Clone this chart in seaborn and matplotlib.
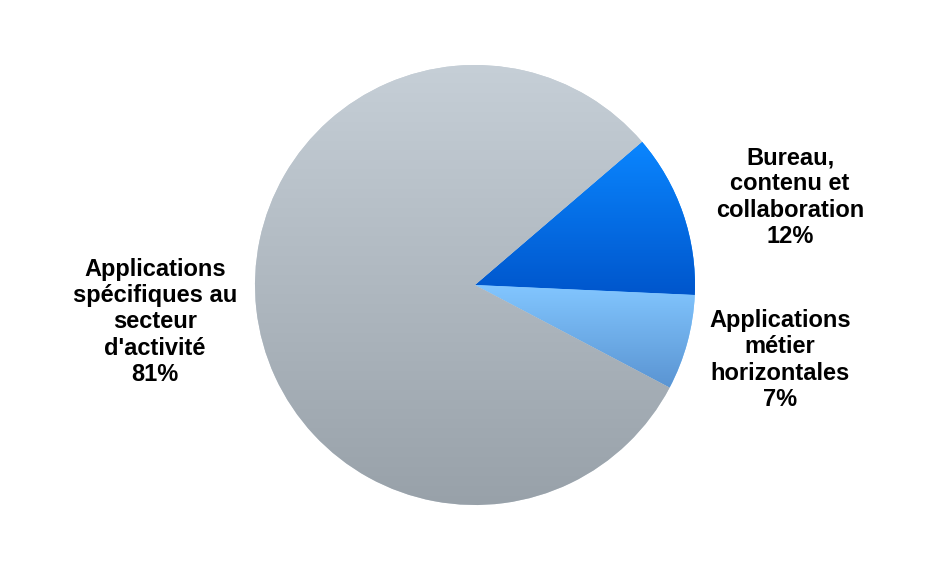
import numpy as np
import matplotlib
matplotlib.use("Agg")
import matplotlib.pyplot as plt
import seaborn as sns
from matplotlib.colors import LinearSegmentedColormap

# Données
labels = [
    "Bureau,\ncontenu et\ncollaboration\n12%",
    "Applications\nmétier\nhorizontales\n7%",
    "Applications\nspécifiques au\nsecteur\nd'activité\n81%",
]
values = [12, 7, 81]
top_colors = ["#0a86ff", "#82c6ff", "#c6cfd7"]
bottom_colors = ["#0056cc", "#5a94d2", "#98a1a9"]

sns.set_theme(style="white")
plt.rcParams["font.family"] = ["Liberation Sans", "DejaVu Sans"]

fig = plt.figure(figsize=(9.5, 5.69), dpi=100)
ax = fig.add_axes([0, 0, 1, 1])

wedges, _ = ax.pie(
    values,
    startangle=40.6,
    counterclock=False,
    center=(475, 284),
    radius=220,
    frame=True,
    colors=top_colors,
    wedgeprops=dict(linewidth=0),
)

# Dégradé vertical dans chaque secteur
for w, c1, c2 in zip(wedges, top_colors, bottom_colors):
    verts = w.get_path().vertices
    x0, y0 = verts.min(axis=0)
    x1, y1 = verts.max(axis=0)
    cmap = LinearSegmentedColormap.from_list("g", [c2, c1])
    grad = np.linspace(0, 1, 256).reshape(-1, 1)
    im = ax.imshow(grad, cmap=cmap, extent=(x0, x1, y0, y1), origin="lower",
                   aspect="auto", zorder=2)
    im.set_clip_path(w)

ax.set_xlim(0, 950)
ax.set_ylim(0, 569)
ax.set_aspect("equal")
ax.axis("off")

label_pos = [(790, 372), (780, 209), (155, 247)]
for txt, (x, y) in zip(labels, label_pos):
    ax.text(x, y, txt, ha="center", va="center", fontsize=17,
            fontweight="bold", color="black", linespacing=1.17, zorder=3)

fig.savefig("out.png", dpi=100)
